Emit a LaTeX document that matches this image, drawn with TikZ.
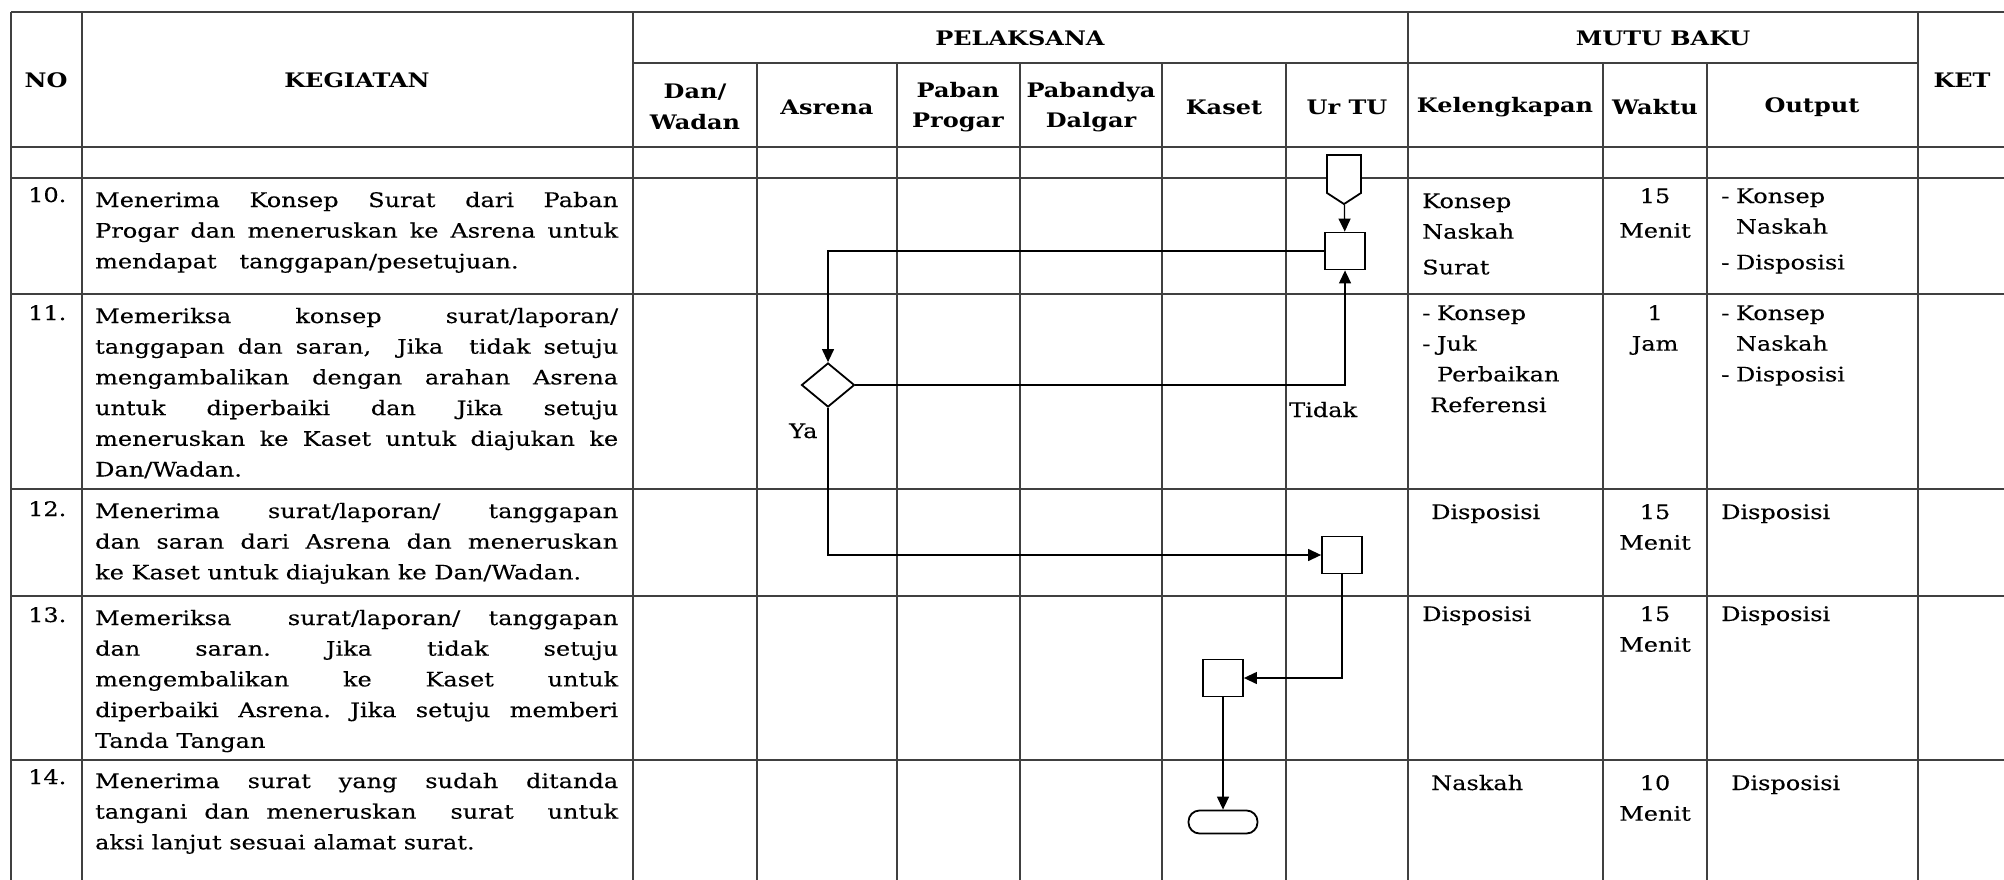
\documentclass[tikz,border=0pt]{standalone}
\usepackage{fontspec}
\setmainfont[FakeStretch=1.2, UprightFeatures={FakeBold=0.3}]{DejaVu Serif}
\usetikzlibrary{arrows.meta,shapes.geometric,shapes.symbols}
\tolerance=10000 \hbadness=10000 \hyphenpenalty=10000
\frenchspacing
\newcommand\tabfont{\fontsize{20pt}{30.7pt}\selectfont}
\tikzset{
  grid/.style={draw=black!75, line width=1.5pt},
  proc/.style={draw, fill=white, line width=1.8pt, minimum width=40pt, minimum height=37pt, inner sep=0pt},
  flow/.style={line width=1.3pt, -{Triangle[length=13pt,width=12pt]}},
  hd/.style={font=\bfseries, align=center, inner sep=0pt},
  txt/.style={anchor=base west, text width=180pt, align=left, inner sep=0pt},
  ctr/.style={anchor=base, text width=100pt, align=center, inner sep=0pt},
  keg/.style={anchor=base west, text width=523pt, align=justify, inner sep=0pt}
}
\begin{document}
\begin{tikzpicture}[x=1pt,y=-1pt]
  \tabfont
  \useasboundingbox (0,0) rectangle (2004,880);
  % table
  \foreach \x in {11,82,633,1408,1918}
    \draw[grid] (\x,12) -- (\x,880);
  \foreach \x in {757,897,1020,1162,1286,1603,1707}
    \draw[grid] (\x,63) -- (\x,880);
  \foreach \y in {12,147,178,294,489,596,760}
    \draw[grid] (11,\y) -- (2004,\y);
  \draw[grid] (633,63) -- (1918,63);

  % header
  \node[hd] (no) at (46,80) {NO};
  \node[hd] (kegiatan) at (357,80) {KEGIATAN};
  \node[hd] (pelaksana) at (1020,38) {PELAKSANA};
  \node[hd] (mutu) at (1663,38) {MUTU BAKU};
  \node[hd] (ket) at (1962,80) {KET};
  \foreach \x/\t/\n in {695/{Dan/\\Wadan}/dan, 827/Asrena/asrena,
      958/{Paban\\Progar}/paban, 1091/{Pabandya\\Dalgar}/pabandya,
      1224/Kaset/kaset, 1347/Ur TU/urtu, 1505/Kelengkapan/lengkap,
      1655/Waktu/waktu, 1812/Output/output}
    \node[hd] (\n) at (\x,107) {\t};

  % nomor dan waktu
  \foreach \y/\t/\n in {202/10./n10, 320/11./n11, 516/12./n12, 622/13./n13, 784/14./n14}
    \node[txt] (\n) at (28,\y) {\t};
  \foreach \y/\t/\n in {203/{15\\[4pt]Menit}/w10, 320/{1\\Jam}/w11, 519/{15\\Menit}/w12,
      621/{15\\Menit}/w13, 790/{10\\Menit}/w14}
    \node[ctr] (\n) at (1655,\y) {\t};

  % kegiatan
  \node[keg] (t10) at (95,207) {Menerima Konsep Surat dari Paban\linebreak
    Progar dan meneruskan ke Asrena untuk\linebreak
    mendapat~~~tanggapan/pesetujuan.};
  \node[keg] (t11) at (95,323) {Memeriksa konsep surat/laporan/\linebreak
    tanggapan dan saran,~ Jika~ tidak setuju\linebreak
    mengambalikan dengan arahan Asrena\linebreak
    untuk diperbaiki dan Jika setuju\linebreak
    meneruskan ke Kaset untuk diajukan ke\linebreak
    Dan/Wadan.};
  \node[keg] (t12) at (95,518) {Menerima surat/laporan/ tanggapan\linebreak
    dan saran dari Asrena dan meneruskan\linebreak
    ke Kaset untuk diajukan ke Dan/Wadan.};
  \node[keg] (t13) at (95,625) {Memeriksa~ surat/laporan/ tanggapan\linebreak
    dan saran. Jika tidak setuju\linebreak
    mengembalikan ke Kaset untuk\linebreak
    diperbaiki Asrena. Jika setuju memberi\linebreak
    Tanda Tangan};
  \node[keg] (t14) at (95,788) {Menerima surat yang sudah ditanda\linebreak
    tangani dan meneruskan~ surat~ untuk\linebreak
    aksi lanjut sesuai alamat surat.};

  % kelengkapan dan output
  \node[txt] (k10) at (1422,208) {Konsep\\Naskah\\[5pt]Surat};
  \node[txt] (k11) at (1422,320) {- Konsep\\- Juk\\\phantom{- }Perbaikan\\\hspace*{8pt}Referensi};
  \node[txt] (k12) at (1431,519) {Disposisi};
  \node[txt] (k13) at (1422,621) {Disposisi};
  \node[txt] (k14) at (1431,790) {Naskah};
  \node[txt] (o10) at (1721,203) {- Konsep\\\phantom{- }Naskah\\[5pt]- Disposisi};
  \node[txt] (o11) at (1721,320) {- Konsep\\\phantom{- }Naskah\\- Disposisi};
  \node[txt] (o12) at (1721,519) {Disposisi};
  \node[txt] (o13) at (1721,621) {Disposisi};
  \node[txt] (o14) at (1731,790) {Disposisi};

  % bagan alir
  \node[signal, signal to=south, signal pointer angle=114, draw, fill=white, line width=1.8pt,
    minimum width=34pt, minimum height=38pt, inner sep=0pt] (start) at (1344,174) {};
  \node[proc] (p10) at (1345,251) {};
  \node[diamond, draw, fill=white, line width=1.8pt, minimum width=53pt, minimum height=44pt,
    inner sep=0pt] (d11) at (828,385) {};
  \node[proc] (p12) at (1342,555) {};
  \node[proc] (p13) at (1223,678) {};
  \node[draw, fill=white, rounded corners=11pt, line width=1.8pt, minimum width=69pt,
    minimum height=23pt, inner sep=0pt] (end) at (1223,822) {};
  \node[anchor=base west, inner sep=0pt] (tidak) at (1289,417) {Tidak};
  \node[anchor=base west, inner sep=0pt] (ya) at (789,438) {Ya};

  \draw[flow] (start) -- (p10);
  \draw[flow] (p10.west) -| (d11.north);
  \draw[flow] (d11.east) -| (p10.south);
  \draw[flow] (d11.south) |- (p12.west);
  \draw[flow] (p12.south) |- (p13.east);
  \draw[flow] (p13) -- (end);
\end{tikzpicture}
\end{document}
